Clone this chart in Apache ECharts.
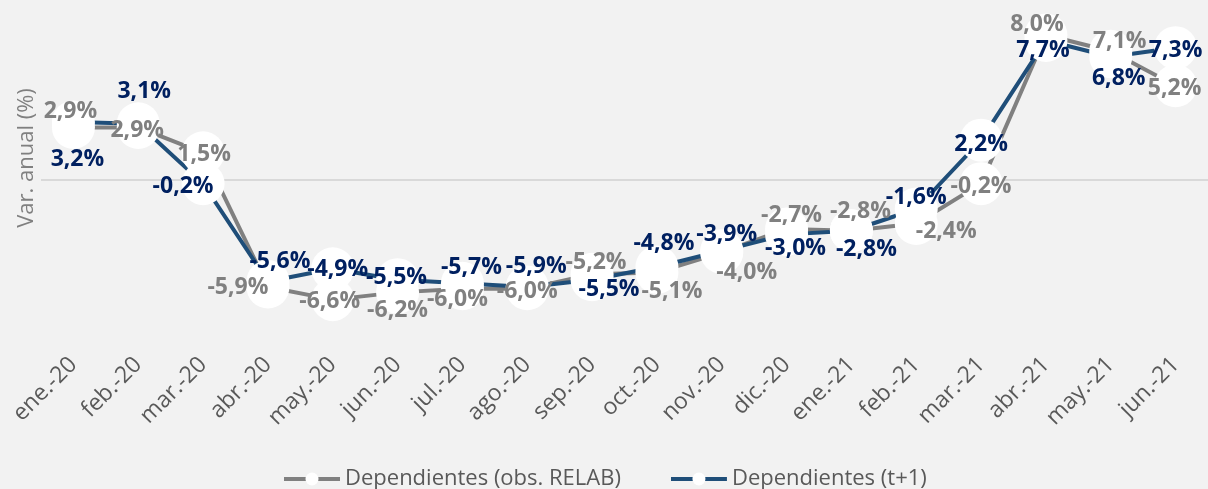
<!DOCTYPE html>
<html>
<head>
<meta charset="utf-8">
<script src="https://cdn.jsdelivr.net/npm/echarts@6/dist/echarts.min.js"></script>
<style>
html,body{margin:0;padding:0;background:#f2f2f2;}
#c{width:1208px;height:489px;}
</style>
</head>
<body>
<div id="c"></div>
<script>
// ---- data ----
var categories = ['ene.-20','feb.-20','mar.-20','abr.-20','may.-20','jun.-20','jul.-20','ago.-20','sep.-20','oct.-20','nov.-20','dic.-20','ene.-21','feb.-21','mar.-21','abr.-21','may.-21','jun.-21'];
var obsRelab = [2.9, 2.9, 1.5, -5.9, -6.6, -6.2, -6.0, -6.0, -5.2, -5.1, -4.0, -2.7, -2.8, -2.4, -0.2, 8.0, 7.1, 5.2];
var tPlus1 = [3.2, 3.1, -0.2, -5.6, -4.9, -5.5, -5.7, -5.9, -5.5, -4.8, -3.9, -3.0, -2.8, -1.6, 2.2, 7.7, 6.8, 7.3];
var seriesNames = ['Dependientes (obs. RELAB)', 'Dependientes (t+1)'];

// ---- label placement tweaks (pixel offsets of each data label from its point) ----
var obsLabelOffsets = [[-3,-16],[-1,3],[1,2],[-30,1],[-3,2],[0,18],[-5,11],[0,3],[4,-12],[15,19],[25,20],[5,-13],[9,-19],[30,8],[0,3],[-9,-11],[9,-10],[-1,3]];
var tLabelOffsets = [[4,37],[6,-32],[-20,3],[12,-20],[5,1],[-1,-2],[9,-16],[9,-20],[17,10],[7,-24],[5,-16],[9,14],[15,19],[0,-12],[0,4],[-3,10],[8,22],[0,3]];

var grayColor = '#808080', blueLine = '#1f4e79', blueText = '#002060';

function fmt(v){ return v.toFixed(1).replace('.', ',') + '%'; }
function build(vals, offs){
  return vals.map(function(v,i){ return {value:v, label:{offset:offs[i]}}; });
}
function legendIcon(color){
  var svg = '<svg xmlns="http://www.w3.org/2000/svg" width="56" height="16" viewBox="0 0 56 16">' +
    '<line x1="0" y1="8" x2="56" y2="8" stroke="' + color + '" stroke-width="4"/>' +
    '<circle cx="28" cy="8" r="6.5" fill="#ffffff"/></svg>';
  return 'image://data:image/svg+xml;charset=utf-8,' + encodeURIComponent(svg);
}

var chart = echarts.init(document.getElementById('c'), null, {renderer:'canvas'});
var font = 'Open Sans';
chart.setOption({
  backgroundColor:'#f2f2f2',
  animation:false,
  grid:{left:41, top:35, width:1169, height:290},
  legend:{
    left:279, top:463,
    itemWidth:56, itemHeight:16, itemGap:50,
    textStyle:{fontFamily:font, fontSize:22, color:'#595959'},
    data: [
      {name:seriesNames[0], icon:legendIcon(grayColor)},
      {name:seriesNames[1], icon:legendIcon(blueLine)}
    ]
  },
  xAxis:{
    type:'category', data:categories, boundaryGap:true,
    axisLine:{show:false}, axisTick:{show:false},
    axisLabel:{rotate:45, margin:36, interval:0, fontFamily:font, fontSize:23, color:'#595959'}
  },
  yAxis:{
    type:'value', min:-8, max:8, interval:8,
    axisLabel:{show:false}, axisLine:{show:false}, axisTick:{show:false},
    splitLine:{show:true, lineStyle:{color:['rgba(0,0,0,0)','#d9d9d9','rgba(0,0,0,0)'], width:2}},
    name:'Var. anual (%)', nameLocation:'middle', nameGap:3, nameRotate:90,
    nameTextStyle:{fontFamily:font, fontSize:22, color:'#808080', padding:[0,0,0,44]}
  },
  series:[
    {
      name:seriesNames[0], type:'line', data:build(obsRelab, obsLabelOffsets),
      symbol:'circle', symbolSize:43, showAllSymbol:true,
      itemStyle:{color:'#ffffff', borderWidth:0},
      lineStyle:{color:grayColor, width:4},
      label:{show:true, position:'inside', formatter:function(p){return fmt(p.value);},
        fontFamily:font, fontWeight:'bold', fontSize:23, color:grayColor}
    },
    {
      name:seriesNames[1], type:'line', data:build(tPlus1, tLabelOffsets),
      symbol:'circle', symbolSize:43, showAllSymbol:true,
      itemStyle:{color:'#ffffff', borderWidth:0},
      lineStyle:{color:blueLine, width:4},
      label:{show:true, position:'inside', formatter:function(p){return fmt(p.value);},
        fontFamily:font, fontWeight:'bold', fontSize:23, color:blueText}
    }
  ]
});
</script>
</body>
</html>
